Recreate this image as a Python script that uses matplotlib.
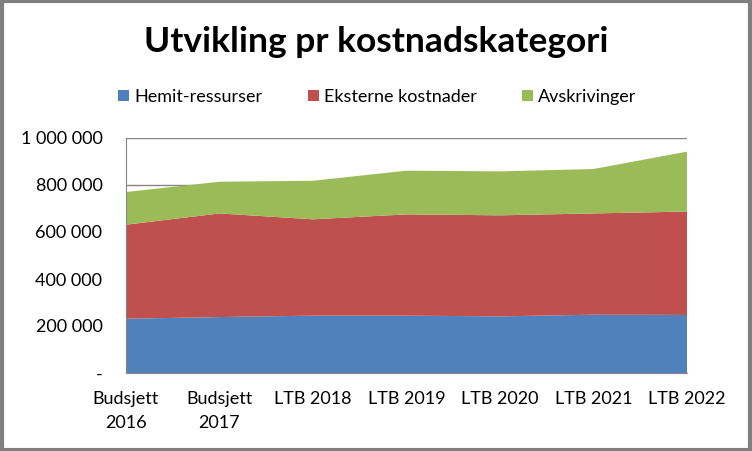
import matplotlib
matplotlib.use("Agg")
import matplotlib.pyplot as plt
from matplotlib.ticker import FuncFormatter

categories = ["Budsjett\n2016", "Budsjett\n2017", "LTB 2018", "LTB 2019",
              "LTB 2020", "LTB 2021", "LTB 2022"]
hemit = [231000, 238000, 244000, 244000, 241000, 248000, 247000]
eksterne = [400000, 441000, 410000, 431000, 430000, 431000, 440000]
avskrivinger = [139000, 135000, 164000, 186000, 187000, 189000, 255000]

series_names = ["Hemit-ressurser", "Eksterne kostnader", "Avskrivinger"]
colors = ["#4F81BD", "#C0504D", "#9BBB59"]

plt.rcParams['font.family'] = ['Lato', 'DejaVu Sans']

fig = plt.figure(figsize=(7.52, 4.51), dpi=100)
ax = fig.add_axes([126 / 752, 1 - 373 / 451, (687 - 126) / 752, (373 - 138) / 451])

x = list(range(len(categories)))
ax.stackplot(x, hemit, eksterne, avskrivinger, colors=colors,
             labels=series_names, zorder=2)

ax.set_xlim(0, len(categories) - 1)
ax.set_ylim(0, 1000000)
ax.set_yticks(range(0, 1000001, 200000))
ax.yaxis.grid(True, color="#868686", linewidth=1, zorder=0)
ax.set_axisbelow(True)


def fmt(v, pos):
    if v == 0:
        return "-"
    return f"{int(v):,}".replace(",", " ")


ax.yaxis.set_major_formatter(FuncFormatter(fmt))
ax.set_xticks(x)
ax.set_xticklabels(categories, fontsize=13, linespacing=1.6)
ax.tick_params(axis="y", labelsize=13, length=0, pad=17)
ax.tick_params(axis="x", length=0, pad=13)

for side in ["top", "right"]:
    ax.spines[side].set_visible(False)
ax.spines["left"].set_color("#868686")
ax.spines["bottom"].set_color("#868686")

fig.text(0.5, 1 - 42 / 451, "Utvikling pr kostnadskategori", ha="center",
         va="center", fontsize=25.5, fontweight="bold")

handles, labels = ax.get_legend_handles_labels()
fig.legend(handles, labels, loc="center", bbox_to_anchor=(0.502, 1 - 97 / 451),
           ncol=3, frameon=False, fontsize=13, handlelength=0.6,
           handleheight=0.6, handletextpad=0.3, columnspacing=2.5)

# grey outer frame
frame = plt.Rectangle((0.002, 0.003), 0.996, 0.994, transform=fig.transFigure,
                      fill=False, edgecolor="#7F7F7F", linewidth=3)
fig.patches.append(frame)

fig.savefig("out.png", dpi=100)
